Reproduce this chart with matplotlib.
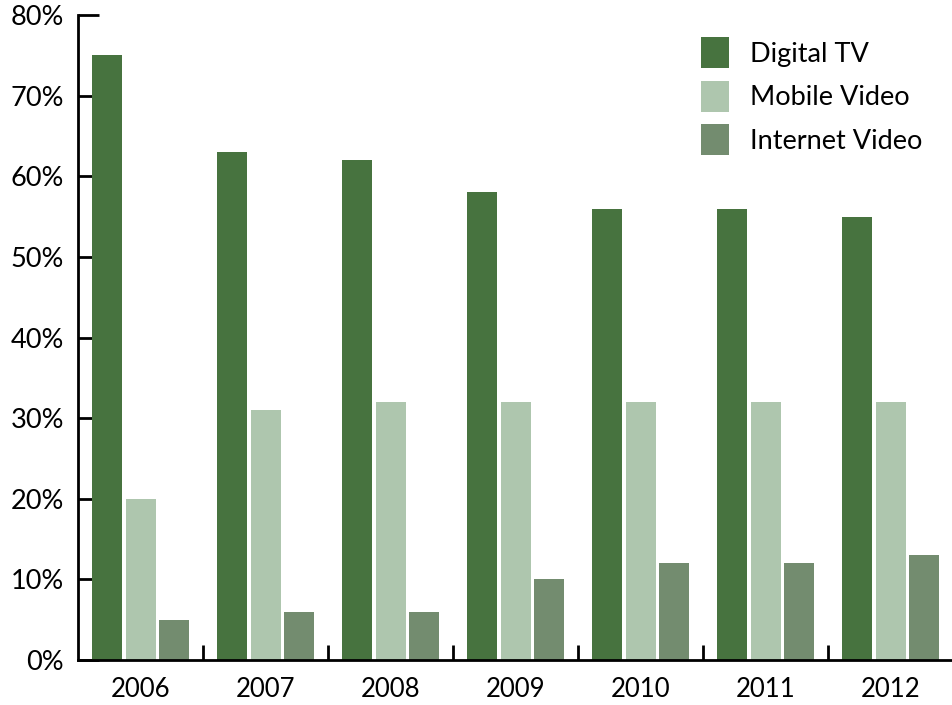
import matplotlib
matplotlib.use("Agg")
import matplotlib.pyplot as plt
import numpy as np

# dados
anos = ["2006", "2007", "2008", "2009", "2010", "2011", "2012"]
digital_tv = [75, 63, 62, 58, 56, 56, 55]
mobile_video = [20, 31, 32, 32, 32, 32, 32]
internet_video = [5, 6, 6, 10, 12, 12, 13]
series = ["Digital TV", "Mobile Video", "Internet Video"]
cores = ["#47733F", "#AEC6AE", "#738C6F"]
yticks = [0, 10, 20, 30, 40, 50, 60, 70, 80]

plt.rcParams["font.family"] = ["Lato", "DejaVu Sans"]

fig = plt.figure(figsize=(9.52, 7.05), dpi=100)
ax = fig.add_axes([78 / 952, 1 - 660 / 705, 875 / 952, 645 / 705])

x = np.arange(len(anos))
largura = 0.24
desloc = [-0.27, 0.0, 0.27]
for valores, nome, cor, d in zip([digital_tv, mobile_video, internet_video], series, cores, desloc):
    ax.bar(x + d, valores, width=largura, color=cor, label=nome, zorder=2)

ax.set_xlim(-0.5, len(anos) - 0.5)
ax.set_ylim(0, 80)
ax.set_axisbelow(True)

for lado in ["top", "right"]:
    ax.spines[lado].set_visible(False)
for lado in ["left", "bottom"]:
    ax.spines[lado].set_linewidth(2)
    ax.spines[lado].set_zorder(3)

ax.set_yticks(yticks)
ax.set_yticklabels([f"{v}%" for v in yticks])
ax.tick_params(axis="y", direction="in", length=15, width=2, pad=10, labelsize=19.5, colors="black")

ax.set_xticks(x)
ax.set_xticklabels(anos)
ax.tick_params(axis="x", which="major", length=0, pad=12, labelsize=18.5)
ax.set_xticks(x + 0.5, minor=True)
ax.tick_params(axis="x", which="minor", direction="in", length=11, width=2)

ax.legend(loc="upper left", bbox_to_anchor=(701 / 952, 1 - 37 / 705), bbox_transform=fig.transFigure,
          frameon=False, fontsize=19.5, handlelength=1.04, handleheight=1.39,
          labelspacing=0.46, handletextpad=0.78, borderpad=0, borderaxespad=0)

fig.savefig("out.png", dpi=100)
